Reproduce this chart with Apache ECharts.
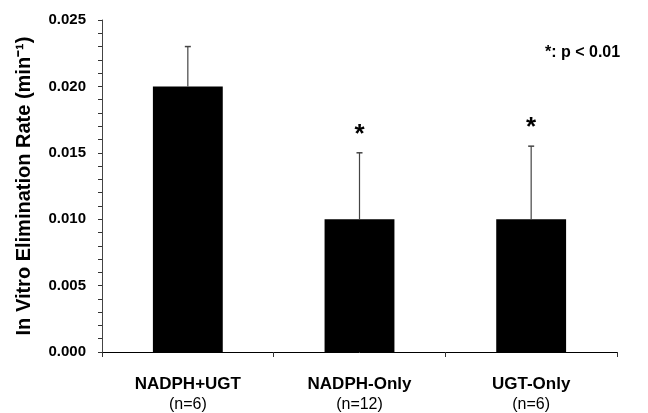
<!DOCTYPE html>
<html>
<head>
<meta charset="utf-8">
<script src="https://cdn.jsdelivr.net/npm/echarts@6/dist/echarts.min.js"></script>
<style>
  html, body { margin: 0; padding: 0; background: #fff; }
  #chart { width: 648px; height: 413px; }
</style>
</head>
<body>
<div id="chart"></div>
<script>
// groups and sample sizes
const groups = ['NADPH+UGT', 'NADPH-Only', 'UGT-Only'];
const sampleSizes = ['(n=6)', '(n=12)', '(n=6)'];
// mean elimination rate (min^-1) and upper error bar
const meanRate = [0.020, 0.010, 0.010];
const errorTop = [0.023, 0.015, 0.0155];
const significant = [false, true, true];
const yTicks = [0, 0.005, 0.010, 0.015, 0.020, 0.025];

const chart = echarts.init(document.getElementById('chart'), null, { renderer: 'canvas' });

const fontFamily = 'Liberation Sans, Arial, sans-serif';

chart.setOption({
  animation: false,
  backgroundColor: '#fff',
  grid: { left: 102, right: 31, top: 20, bottom: 61, outerBoundsMode: 'none', containLabel: false },
  xAxis: {
    type: 'category',
    data: groups.map((g, i) => g + '\n' + sampleSizes[i]),
    axisLine: { lineStyle: { color: '#000', width: 1 } },
    axisTick: { show: true, length: 5, alignWithLabel: false, lineStyle: { color: '#333' } },
    axisLabel: {
      margin: 21,
      interval: 0,
      formatter: function (v) {
        const parts = v.split('\n');
        return '{b|' + parts[0] + '}\n{n|' + parts[1] + '}';
      },
      rich: {
        b: { fontFamily, fontSize: 17, fontWeight: 'bold', color: '#000', lineHeight: 22 },
        n: { fontFamily, fontSize: 16, color: '#000', lineHeight: 20 }
      }
    }
  },
  yAxis: {
    type: 'value',
    min: yTicks[0],
    max: yTicks[yTicks.length - 1],
    interval: 0.005,
    name: 'In Vitro Elimination Rate (min⁻¹)',
    nameLocation: 'middle',
    nameGap: 68,
    nameTextStyle: { fontFamily, fontSize: 20, fontWeight: 'bold', color: '#000' },
    axisLine: { show: true, lineStyle: { color: '#444', width: 1 } },
    axisTick: { show: true, length: 4, lineStyle: { color: '#333' } },
    minorTick: { show: true, splitNumber: 5, length: 4, lineStyle: { color: '#333' } },
    splitLine: { show: false },
    axisLabel: {
      margin: 16,
      fontFamily, fontSize: 15, fontWeight: 'bold', color: '#000',
      formatter: v => v.toFixed(3)
    }
  },
  series: [
    {
      type: 'bar',
      data: meanRate,
      barWidth: '40.7%',
      itemStyle: { color: '#000' },
      z: 2
    },
    {
      type: 'custom',
      data: errorTop.map((e, i) => [i, meanRate[i], e, significant[i] ? 1 : 0]),
      z: 3,
      renderItem: function (params, api) {
        const x = api.value(0);
        const base = api.coord([x, api.value(1)]);
        const top = api.coord([x, api.value(2)]);
        const cap = 3;
        const children = [
          { type: 'line', shape: { x1: base[0], y1: base[1], x2: top[0], y2: top[1] },
            style: { stroke: '#444', lineWidth: 1.2 } },
          { type: 'line', shape: { x1: top[0] - cap, y1: top[1], x2: top[0] + cap, y2: top[1] },
            style: { stroke: '#444', lineWidth: 1.5 } }
        ];
        if (api.value(3)) {
          children.push({
            type: 'text',
            x: top[0], y: top[1] - 31,
            style: { text: '*', fontFamily, fontSize: 26, fontWeight: 'bold', fill: '#000',
                     align: 'center', verticalAlign: 'top' }
          });
        }
        return { type: 'group', children };
      }
    }
  ],
  graphic: [
    {
      type: 'text',
      left: 545, top: 45,
      style: { text: '*: p < 0.01', fontFamily, fontSize: 16, fontWeight: 'bold', fill: '#000' }
    }
  ]
});
</script>
</body>
</html>
